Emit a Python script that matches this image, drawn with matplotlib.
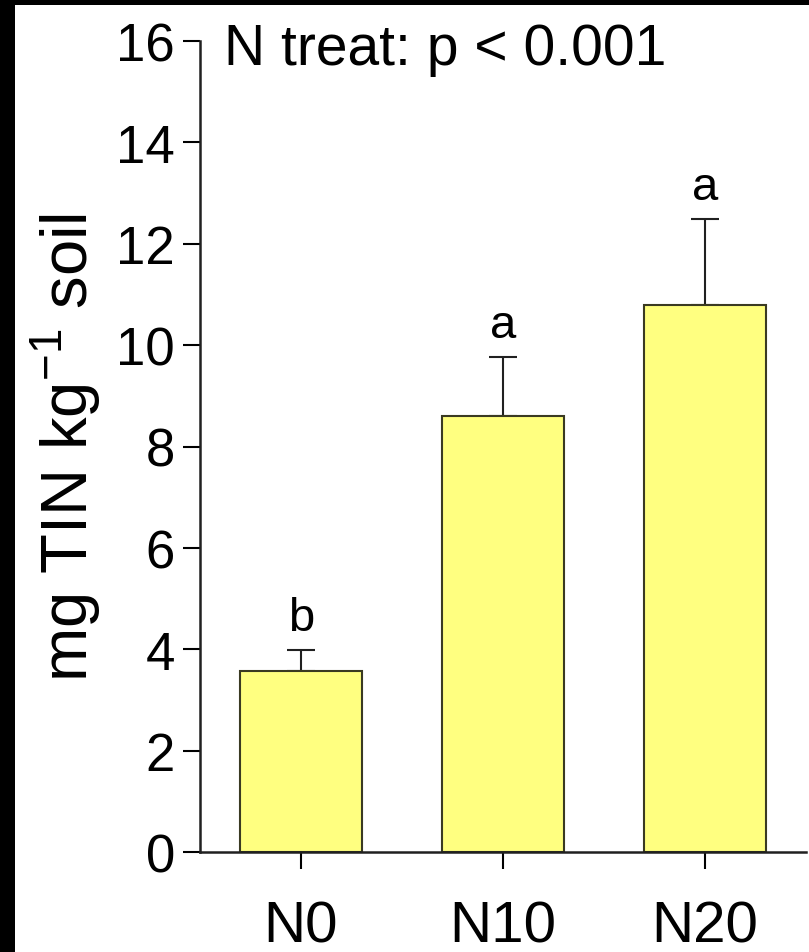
import matplotlib
matplotlib.use("Agg")
import matplotlib.pyplot as plt
from matplotlib.patches import Rectangle

plt.rcParams['font.family'] = ['Liberation Sans', 'DejaVu Sans']

# soil total inorganic N by treatment
treatments = ['N0', 'N10', 'N20']
tin_mean = [3.58, 8.60, 10.80]
tin_se = [0.41, 1.16, 1.68]
letters = ['b', 'a', 'a']

W, H = 809, 953
fig = plt.figure(figsize=(W / 100, H / 100), dpi=100)
fig.patch.set_facecolor('white')

# dark frame strips along the left and top edges
fig.patches.append(Rectangle((0, 0), 15 / W, 1, transform=fig.transFigure,
                             facecolor='black', edgecolor='none', zorder=0))
fig.patches.append(Rectangle((0, 1 - 6 / H), 1, 6 / H, transform=fig.transFigure,
                             facecolor='black', edgecolor='none', zorder=0))

ax = fig.add_axes([200 / W, 100 / H, 606 / W, 811 / H])
x = range(len(treatments))
ax.bar(x, tin_mean, width=0.6, color='#ffff80', edgecolor='#3a3a22',
       linewidth=1.5, zorder=2)
ax.errorbar(x, tin_mean, yerr=[[0] * 3, tin_se], fmt='none', ecolor='#202020',
            elinewidth=1.5, capsize=10, capthick=1.5, zorder=1)

for i, (m, s, l) in enumerate(zip(tin_mean, tin_se, letters)):
    ax.text(i, m + s + 0.2, l, ha='center', va='bottom', fontsize=34)

ax.set_xlim(-0.5, 2.5)
ax.set_ylim(0, 16)
ax.set_yticks(range(0, 17, 2))
ax.set_xticks(list(x))
ax.set_xticklabels(treatments, fontsize=42)
ax.tick_params(axis='y', labelsize=38, length=12, width=1.5, direction='out', pad=6)
ax.tick_params(axis='x', length=12, width=1.5, direction='out', pad=22)

ax.spines['top'].set_visible(False)
ax.spines['right'].set_visible(False)
for sp in ('left', 'bottom'):
    ax.spines[sp].set_linewidth(1.8)
    ax.spines[sp].set_color('#202020')

ax.set_ylabel('mg TIN kg$^{\\mathregular{-1}}$ soil', fontsize=47, va='center')
ax.yaxis.set_label_coords(-0.222, 0.5)
ax.text(0.04, 0.99, 'N treat: p < 0.001', transform=ax.transAxes,
        ha='left', va='center', fontsize=41)

fig.savefig('out.png', dpi=100)
